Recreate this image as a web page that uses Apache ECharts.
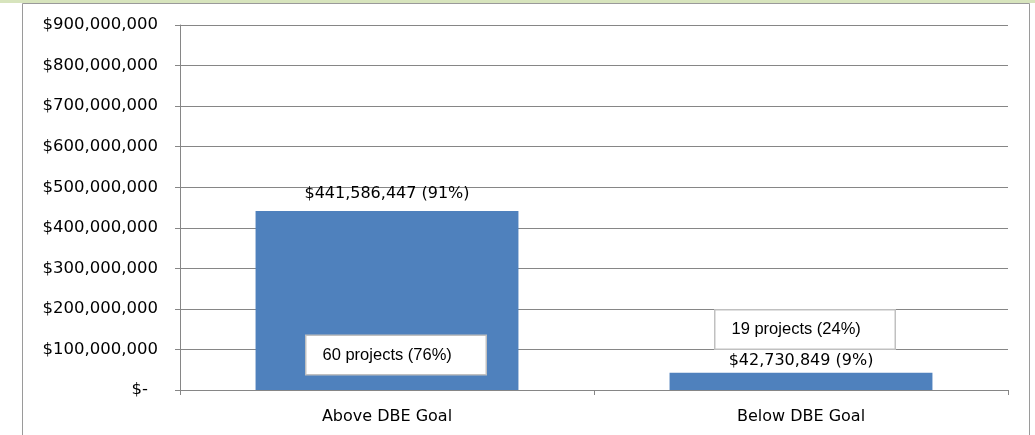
<!DOCTYPE html>
<html><head><meta charset="utf-8">
<script src="https://cdn.jsdelivr.net/npm/echarts@6/dist/echarts.min.js"></script>
<style>html,body{margin:0;padding:0;background:#fff}#c{width:1035px;height:435px}</style>
</head><body><div id="c"></div>
<script>
const categories = ['Above DBE Goal', 'Below DBE Goal'];
const amounts = [441586447, 42730849];
const amountPcts = ['91%', '9%'];
const projectCounts = [60, 19];
const projectPcts = ['76%', '24%'];
const yTicks = [0, 100000000, 200000000, 300000000, 400000000, 500000000, 600000000, 700000000, 800000000, 900000000];

const FONT = 'DejaVu Sans';
function money(v) {
  return '$' + v.toString().replace(/\B(?=(\d{3})+(?!\d))/g, ',');
}
const chart = echarts.init(document.getElementById('c'), null, {renderer: 'canvas'});
const boxAnchors = [86000000, 149000000];
const boxOffsets = [9, 4];
const labelDistances = [9, 4];
chart.setOption({
  animation: false,
  graphic: [
    {type: 'rect', shape: {x: 0, y: 0, width: 1035, height: 3}, style: {fill: '#d7e4bd'}, z: 0},
    {type: 'rect', shape: {x: 22.5, y: 3.5, width: 1007, height: 440}, style: {fill: 'none', stroke: '#9a9a9a', lineWidth: 1}, z: 0}
  ],
  grid: {left: 180, right: 27, top: 25, bottom: 45},
  xAxis: {
    type: 'category', data: categories,
    axisLine: {lineStyle: {color: '#868686', width: 1}},
    axisTick: {show: true, length: 5, lineStyle: {color: '#868686'}},
    axisLabel: {fontFamily: FONT, fontSize: 16, color: '#000', margin: 19}
  },
  yAxis: {
    type: 'value', min: 0, max: yTicks[yTicks.length - 1], interval: yTicks[1] - yTicks[0],
    axisLine: {show: true, lineStyle: {color: '#868686'}},
    axisTick: {show: true, inside: false, length: 5, lineStyle: {color: '#868686'}},
    splitLine: {lineStyle: {color: '#868686', width: 1}},
    axisLabel: {fontFamily: FONT, fontSize: 16.5, color: '#000', margin: 22,
      formatter: v => v === 0 ? '{z|$-}' : money(v),
      rich: {z: {fontFamily: FONT, fontSize: 16.5, color: '#000', padding: [0, 10, 0, 0]}}}
  },
  series: [
    {
      type: 'bar', barWidth: '63.5%',
      data: amounts.map((v, i) => ({value: v, label: {distance: labelDistances[i]}})),
      itemStyle: {color: '#4f81bd'},
      label: {show: true, position: 'top', fontFamily: FONT, fontSize: 16, color: '#000',
        formatter: p => money(p.value) + ' (' + amountPcts[p.dataIndex] + ')'}
    },
    {
      type: 'scatter', symbolSize: 0, itemStyle: {color: 'rgba(0,0,0,0)', opacity: 1},
      data: categories.map((c, i) => [c, boxAnchors[i]]),
      z: 5,
      emphasis: {disabled: true},
      label: {show: true, position: 'inside',
        formatter: p => '{t|' + projectCounts[p.dataIndex] + ' projects (' + projectPcts[p.dataIndex] + ')}',
        rich: {t: {fontFamily: 'Liberation Sans', fontSize: 16.5, color: '#000', lineHeight: 18, align: 'left'}},
        backgroundColor: '#fff', borderColor: '#c0c0c0', borderWidth: 1.5,
        padding: [10, 0, 10, 16], width: 163, align: 'center'
      },
      labelLayout: p => ({dx: boxOffsets[p.dataIndex]})
    }
  ]
});
</script></body></html>
